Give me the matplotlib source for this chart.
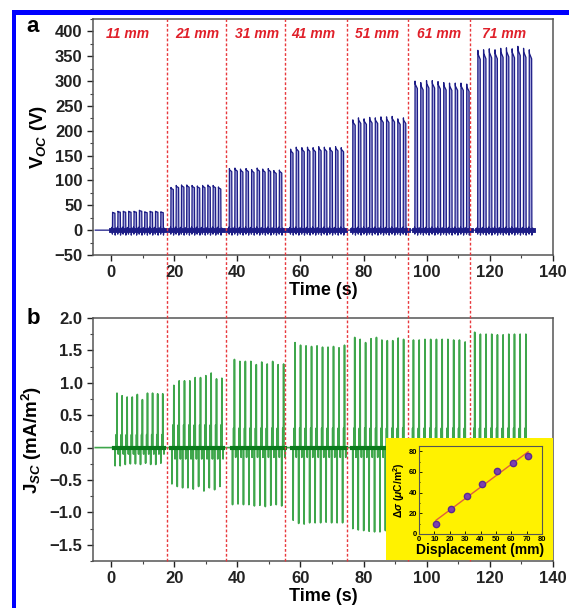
import numpy as np
import matplotlib
matplotlib.use('Agg')
import matplotlib.pyplot as plt
from matplotlib.patches import Rectangle
from matplotlib.lines import Line2D
from matplotlib.transforms import blended_transform_factory
from matplotlib.ticker import MultipleLocator

plt.rcParams['font.family'] = ['Liberation Sans', 'DejaVu Sans']
plt.rcParams['font.weight'] = 'bold'
plt.rcParams['mathtext.fontset'] = 'custom'
plt.rcParams['mathtext.rm'] = 'Liberation Sans:bold'
plt.rcParams['mathtext.it'] = 'Liberation Sans:italic:bold'
plt.rcParams['mathtext.bf'] = 'Liberation Sans:bold'

# segment labels / inset data
displacement = [11, 21, 31, 41, 51, 61, 71]
charge_density = [10, 24, 37, 48, 61, 69, 75]
seg_bounds = [17.7, 36.4, 55.1, 74.8, 94.1, 113.7]
label_x = [5.4, 27.2, 46.2, 64.0, 84.2, 104.0, 124.5]

# open-circuit voltage pulses (V), 10 per segment
voc_start = [0.5, 19.0, 37.5, 56.9, 76.6, 96.3, 116.2]
voc_period = [1.70, 1.67, 1.76, 1.78, 1.78, 1.82, 1.81]
voc_peaks = [
    [36, 38, 38, 38, 38, 40, 37, 38, 38, 37],
    [86, 90, 91, 91, 90, 89, 90, 91, 90, 87],
    [124, 125, 123, 124, 122, 125, 123, 124, 120, 121],
    [163, 167, 166, 167, 166, 168, 167, 166, 168, 166],
    [222, 226, 224, 227, 226, 228, 228, 229, 224, 226],
    [300, 297, 301, 301, 299, 297, 296, 296, 296, 294],
    [362, 363, 365, 363, 366, 367, 365, 370, 366, 363],
]

# short-circuit current density spikes (mA/m^2)
jsc_start = [1.3, 19.3, 38.5, 57.7, 76.6, 95.2, 114.6]
jsc_period = [1.61, 1.69, 1.73, 1.74, 1.72, 1.82, 1.80]
jsc_pos = [
    [0.84, 0.80, 0.78, 0.78, 0.82, 0.74, 0.84, 0.84, 0.83, 0.83],
    [0.96, 1.03, 1.03, 1.03, 1.08, 1.08, 1.11, 1.15, 1.06, 1.07],
    [1.36, 1.33, 1.33, 1.33, 1.28, 1.32, 1.29, 1.33, 1.28, 1.29],
    [1.62, 1.58, 1.57, 1.56, 1.57, 1.55, 1.55, 1.56, 1.54, 1.58],
    [1.70, 1.67, 1.62, 1.68, 1.70, 1.66, 1.65, 1.65, 1.69, 1.67],
    [1.66, 1.66, 1.67, 1.67, 1.67, 1.67, 1.67, 1.66, 1.66, 1.63],
    [1.78, 1.75, 1.75, 1.75, 1.74, 1.74, 1.75, 1.75, 1.75, 1.75],
]
jsc_neg = [
    [-0.28, -0.28, -0.26, -0.25, -0.25, -0.26, -0.24, -0.26, -0.26, -0.24],
    [-0.56, -0.60, -0.62, -0.62, -0.64, -0.60, -0.67, -0.62, -0.65, -0.60],
    [-0.88, -0.87, -0.88, -0.88, -0.90, -0.89, -0.91, -0.89, -0.88, -0.90],
    [-1.12, -1.17, -1.18, -1.16, -1.16, -1.16, -1.15, -1.16, -1.16, -1.16],
    [-1.25, -1.27, -1.28, -1.29, -1.30, -1.30, -1.28, -1.27, -1.30, -1.30],
    [-1.35, -1.35, -1.36, -1.35, -1.36, -1.35, -1.34, -1.35, -1.36, -1.35],
    [-1.40, -1.40, -1.41, -1.40, -1.40, -1.41, -1.40, -1.40, -1.41, -1.40],
]
jsc_small = [0.20, 0.35, 0.30, 0.30, 0.30, 0.30, 0.30]


def voc_wave():
    t, v = [-5.0], [0.0]
    for t0, p, pk in zip(voc_start, voc_period, voc_peaks):
        for i, h in enumerate(pk):
            ti = t0 + i * p
            t += [ti - 0.35, ti - 0.15, ti - 0.06, ti, ti + 0.05, ti + 0.75,
                  ti + 0.82, ti + 0.9, ti + 1.1, ti + 1.3]
            v += [0, 6, -8, h, h * 0.98, h * 0.95, -10, -4, 4, 0]
    t.append(134.0)
    v.append(0.0)
    return np.array(t), np.array(v)


def jsc_wave():
    t, v = [-5.0], [0.0]
    for t0, p, pos, neg, sm in zip(jsc_start, jsc_period, jsc_pos, jsc_neg, jsc_small):
        for i in range(len(pos)):
            ti = t0 + i * p
            t += [ti - 0.05, ti, ti + 0.05, ti + 0.3, ti + 0.34, ti + 0.38,
                  ti + 0.55, ti + 0.6, ti + 0.65, ti + 0.95, ti + 0.99, ti + 1.03]
            v += [0, neg[i], 0, 0, sm, 0, 0, pos[i], 0, 0, -sm * 0.5, 0]
    t.append(134.0)
    v.append(0.0)
    return np.array(t), np.array(v)


W, H = 569, 608
fig = plt.figure(figsize=(W / 100, H / 100), dpi=100)

def fx(px):
    return px / W

def fy(py):
    return 1 - py / H

ax1 = fig.add_axes([fx(93), fy(255), fx(553) - fx(93), fy(19) - fy(255)])
ax2 = fig.add_axes([fx(93), fy(561), fx(553) - fx(93), fy(318) - fy(561)])

# top panel
t, v = voc_wave()
ax1.fill_between(t, v, 0, where=v > 0, color='#a4a4dc', lw=0)
ax1.plot(t, v, color='#1c1c86', lw=0.9)
for t0, p, pk in zip(voc_start, voc_period, voc_peaks):
    ax1.plot([t0 - 0.4, t0 + p * (len(pk) - 1) + 1.3], [0, 0], color='#1c1c86', lw=3.5)
ax1.set_xlim(-5.7, 140)
ax1.set_ylim(-50, 425)
ax1.yaxis.set_major_locator(MultipleLocator(50))
ax1.yaxis.set_minor_locator(MultipleLocator(25))
ax1.set_ylabel(r'V$_{\mathit{OC}}$ (V)', fontsize=13.5, fontweight='bold', labelpad=4)
ax1.set_xlabel('Time (s)', fontsize=13, fontweight='bold', labelpad=1)
for x, d in zip(label_x, displacement):
    ax1.text(x, 395, f'{d} mm', color='#e0202a', fontsize=10, fontweight='bold',
             fontstyle='italic', ha='center', va='center')

# bottom panel
t, v = jsc_wave()
ax2.plot(t, v, color='#3ea64b', lw=1.2)
for t0, p, pos in zip(jsc_start, jsc_period, jsc_pos):
    ax2.plot([t0 - 0.3, t0 + p * (len(pos) - 1) + 1.1], [0, 0], color='#0a7a1c', lw=3)
ax2.set_xlim(-5.7, 140)
ax2.set_ylim(-1.75, 2.0)
ax2.yaxis.set_major_locator(MultipleLocator(0.5))
ax2.yaxis.set_minor_locator(MultipleLocator(0.25))
ax2.set_ylabel(r'J$_{\mathit{SC}}$ (mA/m$^2$)', fontsize=13.5, fontweight='bold', labelpad=4)
ax2.set_xlabel('Time (s)', fontsize=13, fontweight='bold', labelpad=1)

for ax in (ax1, ax2):
    ax.xaxis.set_major_locator(MultipleLocator(20))
    ax.xaxis.set_minor_locator(MultipleLocator(10))
    ax.tick_params(which='major', direction='out', length=4, width=1, labelsize=12, colors='#222222')
    ax.tick_params(which='minor', direction='out', length=2, width=0.8, colors='#444444')
    for lab in ax.get_xticklabels() + ax.get_yticklabels():
        lab.set_fontweight('bold')
    for s in ax.spines.values():
        s.set_color('#555555')
        s.set_linewidth(1.1)

# red dashed separators spanning both panels
trans = blended_transform_factory(ax1.transData, fig.transFigure)
for b in seg_bounds:
    fig.add_artist(Line2D([b, b], [fy(561), fy(19)], transform=trans, color='#e8383d',
                          lw=1.0, ls=(0, (2, 1.5)), zorder=2))

# inset
fig.add_artist(Rectangle((fx(386), fy(560)), fx(553) - fx(386), fy(438) - fy(560),
                         transform=fig.transFigure, color='#fff200', lw=0, zorder=3))
axin = fig.add_axes([fx(419), fy(534), fx(542) - fx(419), fy(446) - fy(534)])
axin.set_zorder(4)
axin.set_facecolor('#fff200')
fit = np.polyfit(displacement, charge_density, 1)
xf = np.array([displacement[0], displacement[-1]])
axin.plot(xf, np.polyval(fit, xf), color='#e0603c', lw=1.0)
axin.plot(displacement, charge_density, 'o', color='#7d3fb0', ms=4.5, mec='#5a2a90')
axin.set_xlim(0, 80)
axin.set_ylim(0, 85)
axin.xaxis.set_major_locator(MultipleLocator(10))
axin.yaxis.set_major_locator(MultipleLocator(20))
axin.yaxis.set_minor_locator(MultipleLocator(10))
axin.tick_params(which='both', direction='in', labelsize=5.5, length=2, width=0.6, pad=1.5)
axin.tick_params(which='minor', length=1)
for lab in axin.get_xticklabels() + axin.get_yticklabels():
    lab.set_fontweight('bold')
for s in axin.spines.values():
    s.set_color('#555555')
    s.set_linewidth(0.8)
axin.set_xlabel('Displacement (mm)', fontsize=10, fontweight='bold', labelpad=0)
axin.set_ylabel(r'$\Delta\sigma$ ($\mu$C/m$^2$)', fontsize=7.5, fontweight='bold', labelpad=1)

# panel letters
fig.text(fx(33), fy(26), 'a', fontsize=16, fontweight='bold', ha='center', va='center')
fig.text(fx(33), fy(318), 'b', fontsize=16, fontweight='bold', ha='center', va='center')

# blue frame
fig.add_artist(Rectangle((fx(12), fy(15)), 1 - fx(12), fy(10) - fy(15),
                         transform=fig.transFigure, color='#0000ff', lw=0, zorder=5))
fig.add_artist(Rectangle((fx(12), 0), fx(16) - fx(12), fy(10),
                         transform=fig.transFigure, color='#0000ff', lw=0, zorder=5))

fig.savefig('out.png', dpi=100)
